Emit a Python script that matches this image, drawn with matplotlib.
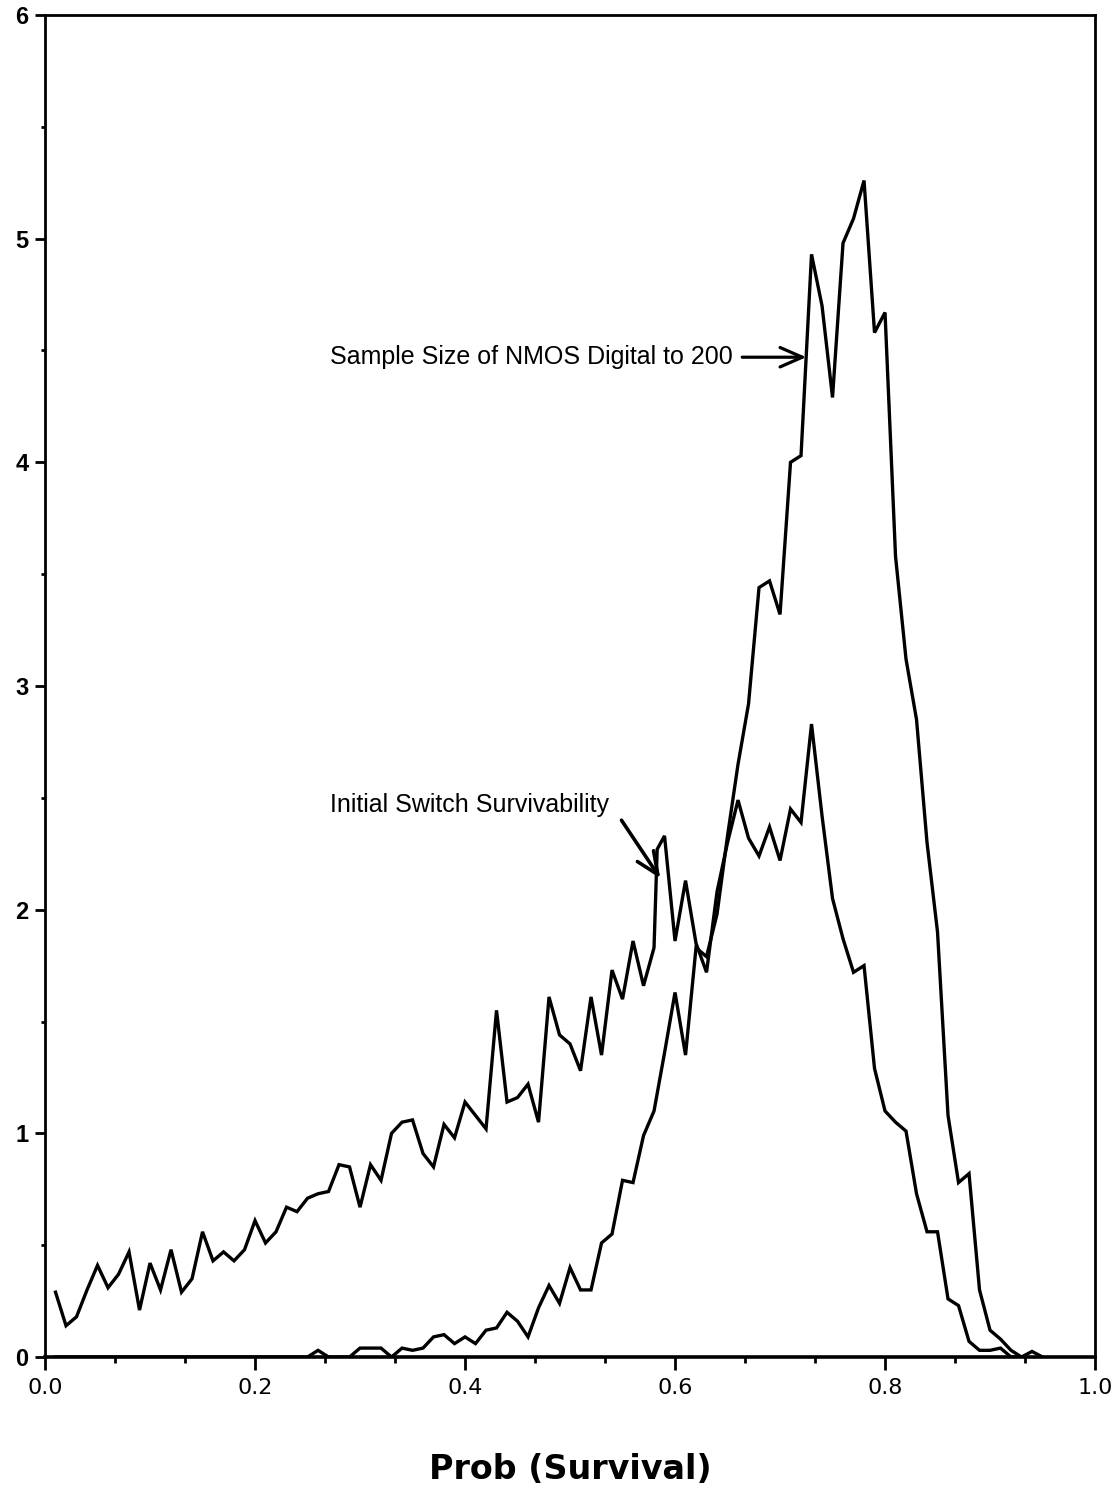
import numpy as np
import matplotlib
matplotlib.use('Agg')
import matplotlib.pyplot as plt

# --- Initial Switch Survivability (broad curve) ---
init_x = [0.01, 0.02, 0.03, 0.04, 0.05, 0.06, 0.07, 0.08, 0.09, 0.10,
          0.11, 0.12, 0.13, 0.14, 0.15, 0.16, 0.17, 0.18, 0.19, 0.20,
          0.21, 0.22, 0.23, 0.24, 0.25, 0.26, 0.27, 0.28, 0.29, 0.30,
          0.31, 0.32, 0.33, 0.34, 0.35, 0.36, 0.37, 0.38, 0.39, 0.40,
          0.41, 0.42, 0.43, 0.44, 0.45, 0.46, 0.47, 0.48, 0.49, 0.50,
          0.51, 0.52, 0.53, 0.54, 0.55, 0.56, 0.57, 0.58, 0.583, 0.59, 0.60,
          0.61, 0.62, 0.63, 0.64, 0.65, 0.66, 0.67, 0.68, 0.69, 0.70,
          0.71, 0.72, 0.73, 0.74, 0.75, 0.76, 0.77, 0.78, 0.79, 0.80,
          0.81, 0.82, 0.83, 0.84, 0.85, 0.86, 0.87, 0.88, 0.89, 0.90,
          0.91, 0.92, 0.93]
init_y = [0.29, 0.14, 0.18, 0.30, 0.41, 0.31, 0.37, 0.47, 0.21, 0.42,
          0.30, 0.48, 0.29, 0.35, 0.56, 0.43, 0.47, 0.43, 0.48, 0.61,
          0.51, 0.56, 0.67, 0.65, 0.71, 0.73, 0.74, 0.86, 0.85, 0.67,
          0.86, 0.79, 1.00, 1.05, 1.06, 0.91, 0.85, 1.04, 0.98, 1.14,
          1.08, 1.02, 1.55, 1.14, 1.16, 1.22, 1.05, 1.61, 1.44, 1.40,
          1.28, 1.61, 1.35, 1.73, 1.60, 1.86, 1.66, 1.83, 2.27, 2.33, 1.86,
          2.13, 1.85, 1.72, 2.08, 2.30, 2.49, 2.32, 2.24, 2.37, 2.22,
          2.45, 2.39, 2.83, 2.42, 2.05, 1.87, 1.72, 1.75, 1.29, 1.10,
          1.05, 1.01, 0.73, 0.56, 0.56, 0.26, 0.23, 0.07, 0.03, 0.03,
          0.04, 0.00, 0.00]

# --- Sample Size of NMOS Digital to 200 (tall peak) ---
nmos_x = [0.01, 0.05, 0.10, 0.15, 0.20, 0.25, 0.26, 0.27, 0.28, 0.29, 0.30,
          0.31, 0.32, 0.33, 0.34, 0.35, 0.36, 0.37, 0.38, 0.39, 0.40,
          0.41, 0.42, 0.43, 0.44, 0.45, 0.46, 0.47, 0.48, 0.49, 0.50,
          0.51, 0.52, 0.53, 0.54, 0.55, 0.56, 0.57, 0.58, 0.59, 0.60,
          0.61, 0.62, 0.63, 0.64, 0.65, 0.66, 0.67, 0.68, 0.69, 0.70,
          0.71, 0.72, 0.73, 0.74, 0.75, 0.76, 0.77, 0.78, 0.79, 0.80,
          0.81, 0.82, 0.83, 0.84, 0.85, 0.86, 0.87, 0.88, 0.89, 0.90,
          0.91, 0.92, 0.93, 0.94, 0.95]
nmos_y = [0.00, 0.00, 0.00, 0.00, 0.00, 0.00, 0.03, 0.00, 0.00, 0.00, 0.04,
          0.04, 0.04, 0.00, 0.04, 0.03, 0.04, 0.09, 0.10, 0.06, 0.09,
          0.06, 0.12, 0.13, 0.20, 0.16, 0.09, 0.22, 0.32, 0.24, 0.40,
          0.30, 0.30, 0.51, 0.55, 0.79, 0.78, 0.99, 1.10, 1.36, 1.63,
          1.35, 1.83, 1.79, 1.98, 2.33, 2.65, 2.92, 3.44, 3.47, 3.32,
          4.00, 4.03, 4.93, 4.70, 4.29, 4.98, 5.09, 5.26, 4.58, 4.67,
          3.58, 3.12, 2.85, 2.30, 1.90, 1.08, 0.78, 0.82, 0.30, 0.12,
          0.08, 0.03, 0.00, 0.025, 0.00]

x_tick_vals = [0.0, 0.2, 0.4, 0.6, 0.8, 1.0]
x_tick_labels = ['0.0', '0.2', '0.4', '0.6', '0.8', '1.0']
y_tick_vals = [0, 1, 2, 3, 4, 5, 6]

fig = plt.figure(figsize=(11.2, 14.98), dpi=100)
ax = fig.add_axes([0.0402, 0.0941, 0.9375, 0.8959])

ax.plot(init_x, init_y, color='black', lw=2.4, solid_joinstyle='miter')
ax.plot(nmos_x, nmos_y, color='black', lw=2.4, solid_joinstyle='miter')

ax.set_xlim(0, 1)
ax.set_ylim(0, 6)

ax.set_xticks(x_tick_vals)
ax.set_xticklabels(x_tick_labels, fontsize=16, family='DejaVu Sans')
ax.set_xticks([k / 15 for k in range(16) if k % 3], minor=True)
ax.set_yticks(y_tick_vals)
ax.set_yticklabels([str(v) for v in y_tick_vals], fontsize=17,
                   fontweight='bold', family='Liberation Sans')
ax.set_yticks(np.arange(0.5, 6, 1.0), minor=True)

ax.tick_params(axis='x', which='major', length=9, width=2, pad=6, direction='out')
ax.tick_params(axis='x', which='minor', length=4.5, width=2, direction='out')
ax.tick_params(axis='y', which='major', length=7, width=2, pad=5, direction='out')
ax.tick_params(axis='y', which='minor', length=3, width=2, direction='out')

for side in ['left', 'right', 'top']:
    ax.spines[side].set_linewidth(2)
ax.spines['bottom'].set_linewidth(2.6)

ax.set_xlabel('Prob (Survival)', fontsize=24, fontweight='bold',
              family='DejaVu Sans', labelpad=40)

# --- annotations ---
ax.text(0.2714, 4.47, 'Sample Size of NMOS Digital to 200', fontsize=18,
        family='Liberation Sans', va='center', ha='left')
ax.annotate('', xy=(0.725, 4.47), xytext=(0.664, 4.47),
            arrowprops=dict(arrowstyle='->,head_length=0.8,head_width=0.35',
                            lw=2.3, color='black', mutation_scale=20,
                            shrinkA=0, shrinkB=0))

ax.text(0.2714, 2.47, 'Initial Switch Survivability', fontsize=18,
        family='Liberation Sans', va='center', ha='left')
ax.annotate('', xy=(0.586, 2.14), xytext=(0.549, 2.40),
            arrowprops=dict(arrowstyle='->,head_length=0.8,head_width=0.35',
                            lw=2.6, color='black', mutation_scale=20,
                            shrinkA=0, shrinkB=0))

plt.savefig('out.png', dpi=100)
